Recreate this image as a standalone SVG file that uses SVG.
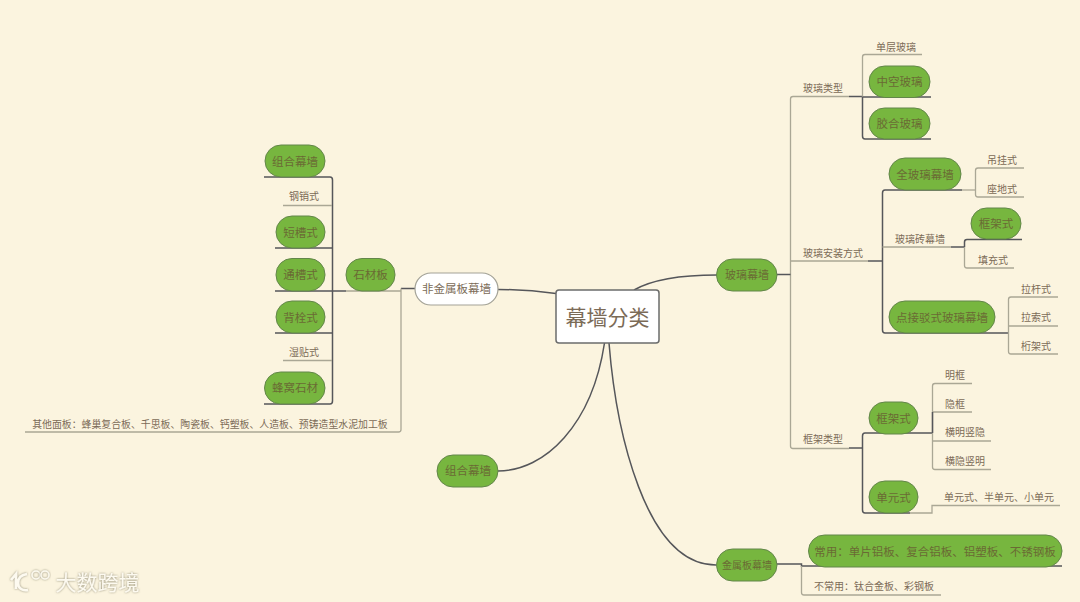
<svg xmlns="http://www.w3.org/2000/svg" width="1080" height="602" viewBox="0 0 1080 602">
<defs>
<filter id="glow" x="-20%" y="-40%" width="140%" height="180%"><feDropShadow dx="0" dy="0" stdDeviation="1.2" flood-color="#7f7a62" flood-opacity="0.9"/></filter>
</defs>
<style>
text{font-family:"Noto Sans CJK SC","Liberation Sans",sans-serif;text-anchor:middle}
.pill{fill:#77b63f;stroke:#63864a;stroke-width:1}
.white{fill:#fff;stroke:#a3a297;stroke-width:1.2}
.pt{font-size:11.5px;fill:#6a6a34}
.st{font-size:10px;fill:#7b6b57}
.wt{font-size:11.5px;fill:#7b6b57}
.lt{fill:none;stroke:#aaa795;stroke-width:1.3}
.dk{fill:none;stroke:#55565a;stroke-width:1.5}
.cv{fill:none;stroke:#55565a;stroke-width:1.5}
.mark{font-size:21px;fill:#fdfaf0;filter:url(#glow)}
.logo{fill:none;stroke:#fdfaf0;filter:url(#glow)}
</style>
<rect width="1080" height="602" fill="#fbf4df"/>
<g id="connectors">
<path class="cv" d="M634 290C655 278 685 275 717 275"/>
<path class="cv" d="M498 289.500C520 289.500 538 291 556 293.500"/>
<path class="cv" d="M604.500 343C592 425 545 471 498 471"/>
<path class="cv" d="M609 343C616 430 645 565 716 565"/>
<path class="lt" d="M849 96.500H793Q790.500 96.500 790.500 99V446Q790.500 448.500 793 448.500H849"/>
<path class="lt" d="M790.500 261H868"/>
<path class="dk" d="M777 274.500H790.500"/>
<path class="dk" d="M849 96.500H862"/>
<path class="lt" d="M922 54.500H865Q862.500 54.500 862.500 57V97"/>
<path class="dk" d="M862.500 97V136Q862.500 139 865 139H931"/>
<path class="dk" d="M862.500 97H931"/>
<path class="dk" d="M868 261H882.500"/>
<path class="dk" d="M962 190H885Q882.500 190 882.500 193V330Q882.500 333 885 333H1008.500"/>
<path class="lt" d="M962 190H975.500"/>
<path class="lt" d="M1024 168H978Q975.500 168 975.500 170.500V194.500Q975.500 197 978 197H1024"/>
<path class="lt" d="M882.500 247H951"/>
<path class="dk" d="M951 247H964.500"/>
<path class="dk" d="M1022 239.500H967Q964.500 239.500 964.500 242V247"/>
<path class="lt" d="M964.500 247V265.500Q964.500 268 967 268H1014"/>
<path class="lt" d="M1058 297H1011Q1008.500 297 1008.500 299.500V351.500Q1008.500 354 1011 354H1058"/>
<path class="lt" d="M1008.500 326H1058"/>
<path class="dk" d="M849 448H862.500"/>
<path class="dk" d="M932 433H865Q862.500 433 862.500 436V510Q862.500 513 865 513H910"/>
<path class="lt" d="M910 513H932V505.500H1060"/>
<path class="lt" d="M972 383.500H935Q932.500 383.500 932.500 386V467Q932.500 469.500 935 469.500H991"/>
<path class="lt" d="M932.500 412H972M932.500 441H991"/>
<path class="dk" d="M932.500 412V433"/>
<path class="dk" d="M777 564H801.500V566H1062"/>
<path class="lt" d="M801.500 566V592.500Q801.500 595 804 595H941"/>
<path class="dk" d="M415 288.500H401"/>
<path class="lt" d="M401 288.500V429.500Q401 432 398.500 432H25"/>
<path class="lt" d="M401 291H346"/>
<path class="dk" d="M346 291H275"/>
<path class="dk" d="M264 177H330Q332.500 177 332.500 180V401Q332.500 404 330 404H264"/>
<path class="lt" d="M283 205.500H332M283 360.500H332"/>
<path class="dk" d="M275 248H332.500M275 333H332.500"/>
</g>
<g id="root"><rect x="556" y="290" width="103" height="53" rx="3" fill="#fff" stroke="#6b6c6c" stroke-width="1.5"/><text x="607.500" y="325" font-size="21" fill="#7b6b57">幕墙分类</text></g>
<g id="n-glass"><rect class="pill" x="716.500" y="259" width="60.500" height="32" rx="16"/><text class="pt" style="font-size:11px" x="747" y="279">玻璃幕墙</text></g>
<g id="n-nonmetal"><rect class="white" x="415" y="273" width="83" height="32" rx="16"/><text class="wt" x="456.500" y="293">非金属板幕墙</text></g>
<g id="n-combo"><rect class="pill" x="437" y="455" width="61" height="32" rx="16"/><text class="pt" x="468" y="475">组合幕墙</text></g>
<g id="n-metal"><rect class="pill" x="716.500" y="549" width="60.500" height="32" rx="16"/><text class="pt" style="font-size:10px" x="747" y="569">金属板幕墙</text></g>
<g id="n-hollow"><rect class="pill" x="869" y="66" width="61" height="31.500" rx="15.700"/><text class="pt" x="899.500" y="86">中空玻璃</text></g>
<g id="n-laminated"><rect class="pill" x="869" y="108" width="61" height="31" rx="15.500"/><text class="pt" x="899.500" y="128">胶合玻璃</text></g>
<g id="n-fullglass"><rect class="pill" x="889" y="158" width="72" height="32" rx="16"/><text class="pt" x="925" y="179">全玻璃幕墙</text></g>
<g id="n-frame1"><rect class="pill" x="971" y="208" width="50" height="31" rx="15.500"/><text class="pt" x="996" y="228">框架式</text></g>
<g id="n-point"><rect class="pill" x="889" y="301" width="106" height="32" rx="16"/><text class="pt" x="942" y="322">点接驳式玻璃幕墙</text></g>
<g id="n-frame2"><rect class="pill" x="869" y="402" width="49" height="32" rx="16"/><text class="pt" x="893.500" y="423">框架式</text></g>
<g id="n-unit"><rect class="pill" x="869" y="481" width="49" height="32" rx="16"/><text class="pt" x="893.500" y="502">单元式</text></g>
<g id="n-common"><rect class="pill" x="808.500" y="535" width="253.500" height="32" rx="16"/><text class="pt" x="935" y="556">常用：单片铝板、复合铝板、铝塑板、不锈钢板</text></g>
<g id="n-stone"><rect class="pill" x="346" y="258.500" width="49" height="32.500" rx="16"/><text class="pt" x="370.500" y="279">石材板</text></g>
<g id="n-lcombo"><rect class="pill" x="265" y="145" width="60" height="32" rx="16"/><text class="pt" x="295" y="166">组合幕墙</text></g>
<g id="n-short"><rect class="pill" x="276" y="216" width="49" height="32" rx="16"/><text class="pt" x="300.500" y="237">短槽式</text></g>
<g id="n-through"><rect class="pill" x="276" y="258.500" width="49" height="32.500" rx="16"/><text class="pt" x="300.500" y="279">通槽式</text></g>
<g id="n-back"><rect class="pill" x="276" y="301" width="49" height="32" rx="16"/><text class="pt" x="300.500" y="322">背栓式</text></g>
<g id="n-honey"><rect class="pill" x="264.500" y="372" width="60.500" height="32" rx="16"/><text class="pt" x="295" y="392">蜂窝石材</text></g>
<g id="labels">
<text class="st" x="896" y="51">单层玻璃</text>
<text class="st" x="823" y="92">玻璃类型</text>
<text class="st" x="1002" y="164">吊挂式</text>
<text class="st" x="1002" y="193">座地式</text>
<text class="st" x="833" y="257">玻璃安装方式</text>
<text class="st" x="920" y="243">玻璃砖幕墙</text>
<text class="st" x="993" y="264">填充式</text>
<text class="st" x="1036" y="293">拉杆式</text>
<text class="st" x="1036" y="321">拉索式</text>
<text class="st" x="1036" y="350">桁架式</text>
<text class="st" x="955" y="379">明框</text>
<text class="st" x="955" y="408">隐框</text>
<text class="st" x="965" y="436">横明竖隐</text>
<text class="st" x="965" y="465">横隐竖明</text>
<text class="st" x="823" y="443">框架类型</text>
<text class="st" x="999" y="501">单元式、半单元、小单元</text>
<text class="st" x="874" y="590">不常用：钛合金板、彩钢板</text>
<text class="st" x="304" y="200">钢销式</text>
<text class="st" x="304" y="356">湿贴式</text>
<text class="st" style="font-size:9.9px" x="210" y="428">其他面板：蜂巢复合板、千思板、陶瓷板、钙塑板、人造板、预铸造型水泥加工板</text>
</g>
<g id="watermark">
<path class="logo" stroke-width="2.6" d="M11 580L16 574V589M27 574C20 575 18 579 18 583C18 588 22 591 28 590"/>
<path class="logo" stroke-width="1.5" d="M29.500 570V579"/>
<circle class="logo" stroke-width="1.5" cx="36" cy="575" r="4"/>
<circle class="logo" stroke-width="1.5" cx="45" cy="575" r="4"/>
<text class="mark" x="97.500" y="590">大数跨境</text>
</g>
</svg>
